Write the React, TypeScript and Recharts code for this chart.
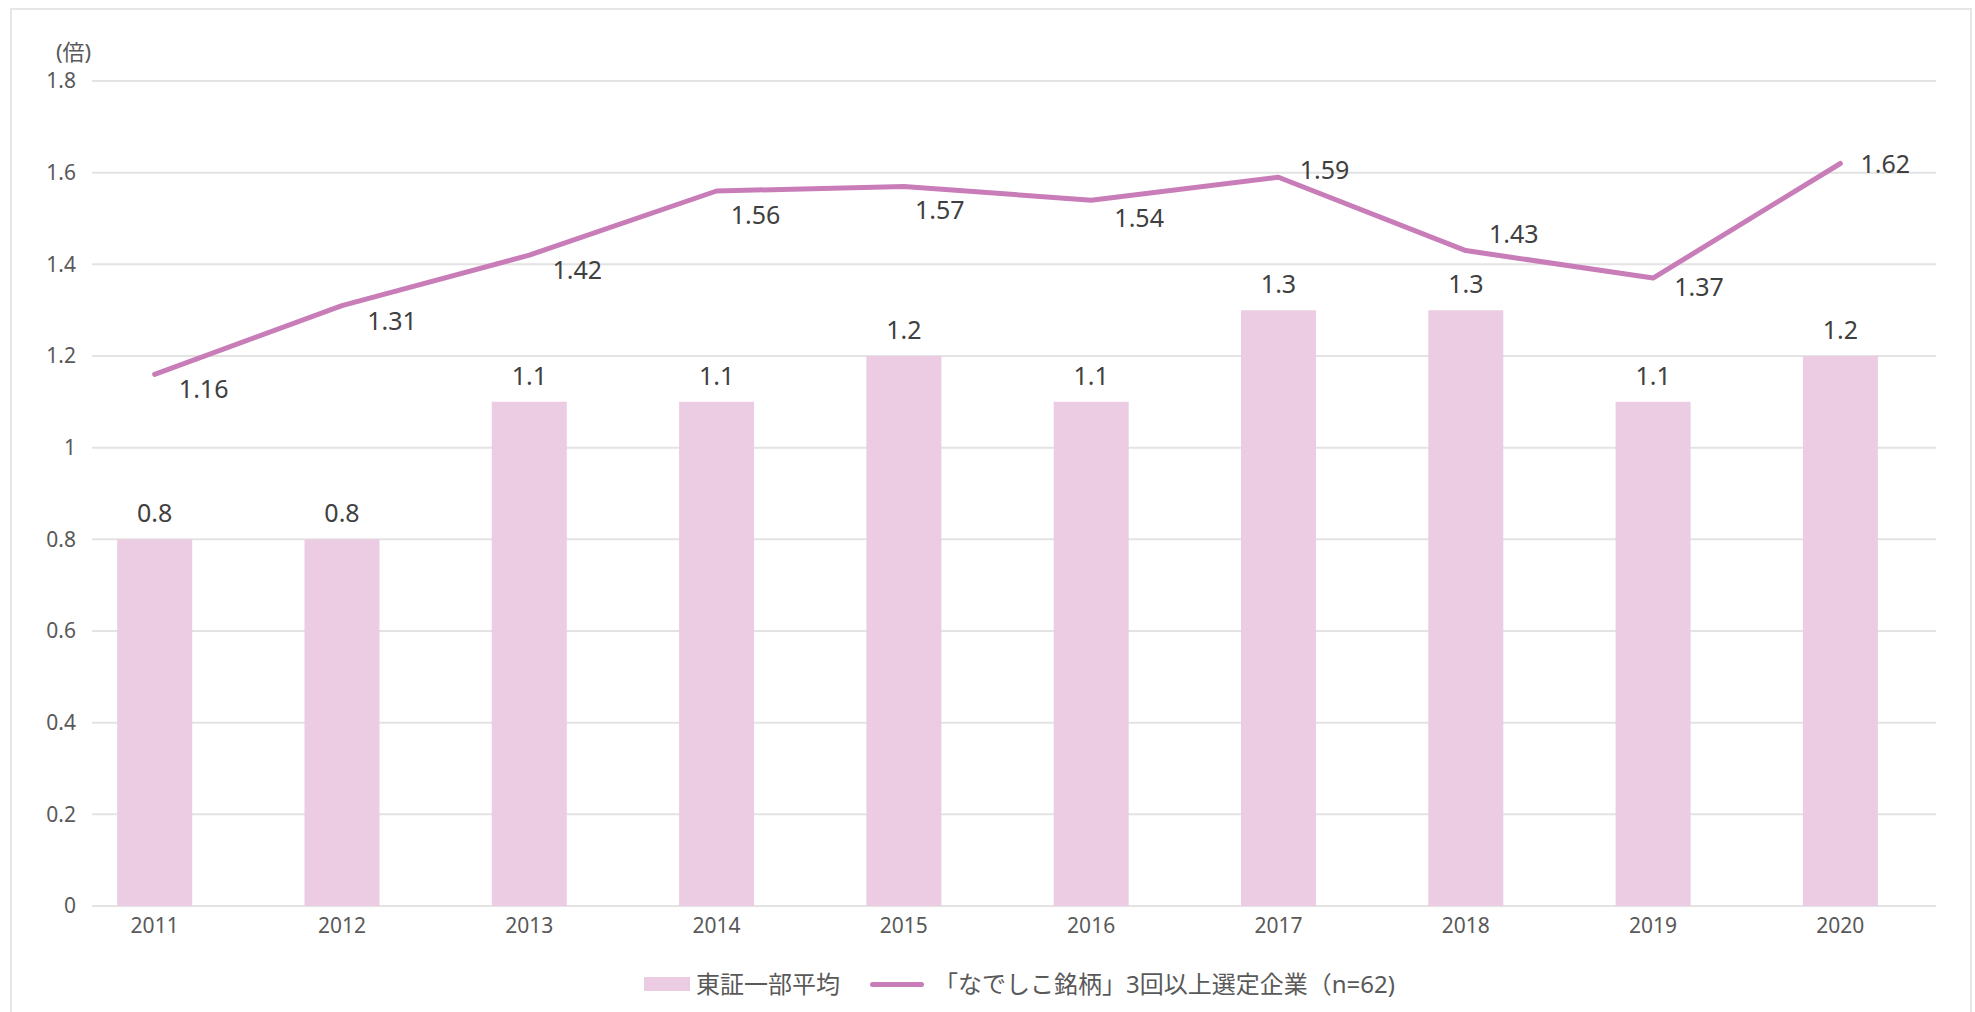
import React from 'react';
import { ComposedChart, Bar, Line, XAxis, YAxis, CartesianGrid, LabelList } from 'recharts';

const years = ['2011', '2012', '2013', '2014', '2015', '2016', '2017', '2018', '2019', '2020'];
const tseAverage = [0.8, 0.8, 1.1, 1.1, 1.2, 1.1, 1.3, 1.3, 1.1, 1.2];
const nadeshiko = [1.16, 1.31, 1.42, 1.56, 1.57, 1.54, 1.59, 1.43, 1.37, 1.62];
const yTicks = [0, 0.2, 0.4, 0.6, 0.8, 1, 1.2, 1.4, 1.6, 1.8];

const barName = '東証一部平均';
const lineName = '「なでしこ銘柄」3回以上選定企業（n=62)';

const BAR_COLOR = '#ebcce2';
const LINE_COLOR = '#c97db8';
const FONT = "'Noto Sans', 'Noto Sans CJK JP', sans-serif";

// where each line label sits relative to its point (Excel-style manual placement)
const lineLabelShift: Record<string, [number, number]> = {
  '2011': [49, 14], '2012': [50, 14], '2013': [48, 14], '2014': [39, 23], '2015': [36, 23],
  '2016': [48, 17], '2017': [46, -8], '2018': [48, -18], '2019': [46, 8], '2020': [45, -1],
};

const data = years.map((y, i) => ({ year: y, tse: tseAverage[i], nade: nadeshiko[i] }));

const BarLabel = (props: any) => {
  const { x, y, width, value } = props;
  return (
    <text x={x + width / 2} y={y - 27} textAnchor="middle" dominantBaseline="central"
      fontSize={25} fill="#404040" fontFamily={FONT}>
      {value}
    </text>
  );
};

const LineLabel = (props: any) => {
  const { x, y, value, index } = props;
  const [dx, dy] = lineLabelShift[years[index]] || [0, -20];
  return (
    <text x={x + dx} y={y + dy} textAnchor="middle" dominantBaseline="central"
      fontSize={25} fill="#404040" fontFamily={FONT}>
      {value}
    </text>
  );
};

const LegendBox = () => (
  <div style={{ position: 'absolute', left: 32, top: 966, width: 1975, display: 'flex', justifyContent: 'center', alignItems: 'center', fontFamily: FONT, fontSize: 24, lineHeight: '36px', color: '#595959' }}>
    <span style={{ display: 'inline-block', width: 46, height: 14, background: BAR_COLOR, marginRight: 6 }} />
    <span>{barName}</span>
    <span style={{ display: 'inline-block', width: 54, height: 5, borderRadius: 3, background: LINE_COLOR, marginLeft: 30, marginRight: 10 }} />
    <span>{lineName}</span>
  </div>
);

export default function App() {
  return (
    <div style={{ position: 'absolute', left: 0, top: 0, width: 1975, height: 1012, background: '#fff', overflow: 'hidden' }}>
      <div style={{ position: 'absolute', left: 10, top: 8, width: 1958, height: 1020, border: '2px solid #e6e6e6' }} />
      <div style={{ position: 'absolute', left: 56, top: 34, fontSize: 22, color: '#595959', fontFamily: FONT }}>(倍)</div>
      <ComposedChart width={1975} height={1012} data={data}
        margin={{ top: 81, right: 39, bottom: 76, left: 0 }}
        barCategoryGap="30%">
        <CartesianGrid horizontal vertical={false} stroke="#e3e3e3" strokeWidth={2} />
        <XAxis dataKey="year" height={30} axisLine={false} tickLine={false} tickSize={0} tickMargin={12}
          padding={{ left: -31, right: 2 }}
          tick={{ fontSize: 21, fill: '#595959', fontFamily: FONT }} />
        <YAxis domain={[0, 1.8]} ticks={yTicks} width={92} axisLine={false} tickLine={false}
          tickSize={0} tickMargin={16}
          tick={{ fontSize: 21, fill: '#595959', fontFamily: FONT }} />
        <Bar dataKey="tse" name={barName} fill={BAR_COLOR} isAnimationActive={false}>
          <LabelList dataKey="tse" content={<BarLabel />} />
        </Bar>
        <Line dataKey="nade" name={lineName} stroke={LINE_COLOR} strokeWidth={5} dot={false}
          activeDot={false} strokeLinecap="round" strokeLinejoin="round" isAnimationActive={false}>
          <LabelList dataKey="nade" content={<LineLabel />} />
        </Line>
      </ComposedChart>
      <LegendBox />
    </div>
  );
}
